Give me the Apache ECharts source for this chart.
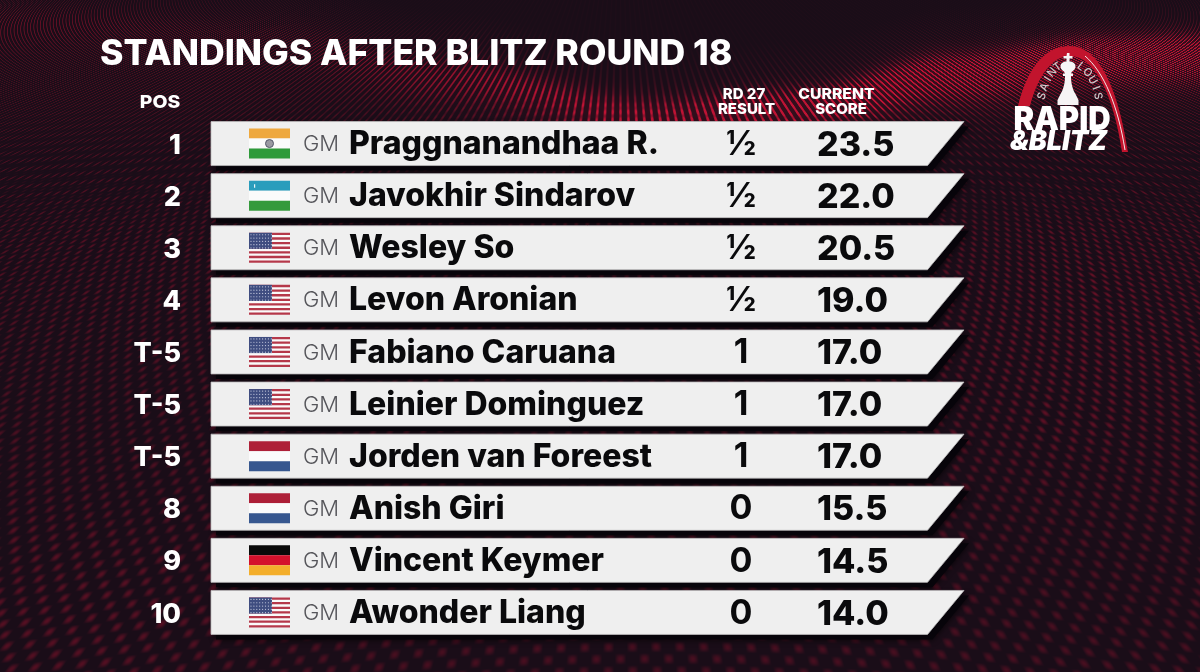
<!DOCTYPE html>
<html><head><meta charset="utf-8">
<style>html,body{margin:0;padding:0;background:#1a0d18;overflow:hidden}#c{width:1200px;height:672px}</style>
<script src="https://cdn.jsdelivr.net/npm/echarts@6/dist/echarts.min.js"></script>
</head><body><div id="c"></div>
<script>
var positions = ['1','2','3','4','T-5','T-5','T-5','8','9','10'];
var flags = ['IN','UZ','US','US','US','US','NL','NL','DE','US'];
var titles = ['GM','GM','GM','GM','GM','GM','GM','GM','GM','GM'];
var players = ['Praggnanandhaa R.','Javokhir Sindarov','Wesley So','Levon Aronian','Fabiano Caruana','Leinier Dominguez','Jorden van Foreest','Anish Giri','Vincent Keymer','Awonder Liang'];
var results = ['½','½','½','½','1','1','1','0','0','0'];
var scores = [23.5,22.0,20.5,19.0,17.0,17.0,17.0,15.5,14.5,14.0];

var FONT = 'Inter, "Liberation Sans", sans-serif';

function makeBackground(){
  var W=1200,H=672,cv=document.createElement('canvas');cv.width=W;cv.height=H;
  var ctx=cv.getContext('2d'),img=ctx.createImageData(W,H),d=img.data;
  function ridge(x){ // y of the glowing crest
    var pts=[[0,20],[250,35],[450,75],[650,115],[800,105],[950,70],[1100,52],[1200,50]];
    for(var i=1;i<pts.length;i++){ if(x<=pts[i][0]){var t=(x-pts[i-1][0])/(pts[i][0]-pts[i-1][0]);t=t*t*(3-2*t);return pts[i-1][1]+(pts[i][1]-pts[i-1][1])*t;} }
    return 50;
  }
  for(var y=0;y<H;y++){
    for(var x=0;x<W;x++){
      var yy=y+122+24*Math.sin((x-150)/330);
      var s=0.03*yy;
      var u=(x-620)/s;
      var v=Math.log(yy)/0.03;
      var cu=Math.cos(2*Math.PI*u), cv2=Math.cos(2*Math.PI*v);
      var streak=Math.min(1,Math.max(0,(y-90)/140));
      var m=cu*(cv2*streak+(1-streak));
      var dot=Math.pow(Math.max(0,m),1.2);
      var r=ridge(x), dr=(y-r)/(y<r?16:30);
      var glow=Math.exp(-dr*dr);
      var glowx=Math.min(1,Math.max(0,(x-300)/500));
      var lvl=0.27;
      lvl+=0.20*Math.exp(-Math.pow((x-1100)/200,2)-Math.pow((y-320)/170,2));
      lvl+=0.10*Math.exp(-Math.pow((x-70)/180,2)-Math.pow((y-600)/120,2));
      lvl+=0.08*Math.exp(-Math.pow((x-120)/200,2)-Math.pow((y-260)/120,2));
      if(y<r) lvl*=Math.max(0.08,1-(r-y)/70);
      var a=dot*(lvl+glow*(0.15+1.0*glowx))+0.16*glow*glowx;
      if(a>1)a=1;
      d[(y*W+x)*4]=26+a*165;
      d[(y*W+x)*4+1]=13+a*6;
      d[(y*W+x)*4+2]=24+a*28;
      d[(y*W+x)*4+3]=255;
    }
  }
  ctx.putImageData(img,0,0);
  return cv;
}

function flagEls(code,x,y,w,h){
  var els=[];
  function r(yf,hf,c,xf,wf){els.push({type:'rect',shape:{x:x+(xf||0)*w,y:y+yf*h,width:(wf==null?1:wf)*w,height:hf*h},style:{fill:c}});}
  function tri(a,b,c){r(0,1/3,a);r(1/3,1/3,b);r(2/3,1/3,c);}
  if(code==='IN'){tri('#eea83e','#fbfbfb','#2e9a3a');
    els.push({type:'circle',shape:{cx:x+w/2,cy:y+h/2,r:4},style:{fill:'#9a9aa2',stroke:'#55586a',lineWidth:1}});
  } else if(code==='UZ'){tri('#2a9dbc','#fbfbfb','#359a3c');
    els.push({type:'rect',shape:{x:x+5,y:y+3.5,width:1.2,height:3.5},style:{fill:'#e8f4f8'}});
  } else if(code==='NL'){tri('#ae2038','#fbfbfb','#37578f');
  } else if(code==='DE'){tri('#0a0a0a','#d4112c','#f3ae2c');
  } else {
    r(0,1,'#fafafa');
    for(var i=0;i<13;i+=2) r(i/13,1/13,'#b5384a');
    r(0,7/13,'#3f4d80',0,0.56);
    for(var a=0;a<5;a++)for(var b=0;b<8;b++){
      els.push({type:'circle',shape:{cx:x+2+b*2.9,cy:y+2+a*3.3,r:0.6},style:{fill:'#c8cde0'}});
    }
  }
  return els;
}

function renderRow(params,api){
  var i=api.value(1);
  function X(v){return api.coord([v,i])[0];}
  var cy=api.coord([0,i])[1];
  var h=44;
  var top=cy-h/2, bot=cy+h/2;
  var pts=[[X(211),top],[X(964),top],[X(927.5),bot],[X(211),bot]];
  var children=[
    {type:'polygon',shape:{points:pts.map(function(p){return [p[0]+5,p[1]+5];})},style:{fill:'#07040a',shadowBlur:6,shadowColor:'rgba(0,0,0,0.8)'}},
    {type:'polygon',shape:{points:pts},style:{fill:'#efefef',stroke:'#bdbbbd',lineWidth:0.8}}
  ];
  children=children.concat(flagEls(flags[i],X(249),cy-15,41,30));
  children.push(
    {type:'text',style:{x:X(181),y:cy+2,text:positions[i],align:'right',verticalAlign:'middle',fill:'#fff',font:'800 27px '+FONT}},
    {type:'text',style:{x:X(303),y:cy+1,text:titles[i],align:'left',verticalAlign:'middle',fill:'#55555a',font:'300 22px '+FONT}},
    {type:'text',style:{x:X(349),y:cy+1,text:players[i],align:'left',verticalAlign:'middle',fill:'#0a0a0c',font:'800 32px '+FONT}},
    {type:'text',style:{x:X(741),y:cy+1,text:results[i],align:'center',verticalAlign:'middle',fill:'#0a0a0c',font:'700 34px '+FONT}},
    {type:'text',style:{x:X(817),y:cy+2,text:scores[i].toFixed(1),align:'left',verticalAlign:'middle',fill:'#0a0a0c',font:'800 34px '+FONT}}
  );
  return {type:'group',children:children};
}

var SAINT=[['S',1042,96,72],['A',1044.5,87,66],['I',1048,79,58],['N',1052,72.5,48],['T',1057.5,67,35]];
var LOUIS=[['L',1081,66.5,-38],['O',1087.5,72.5,-48],['U',1092.5,80,-60],['I',1096,88,-70],['S',1098,96,-80]];

function renderLogo(){
  var c=[
   {type:'path',shape:{pathData:'M1018,106 C1028,66 1046,46 1070,46 C1100,46 1119,92 1128,152 L1122,152 C1114,98 1096,56 1070,56 C1052,56 1038,76 1030,106 Z'},style:{fill:'#c2142d'}},
   {type:'path',shape:{pathData:'M1085,56 C1104,72 1118,106 1125,150'},style:{fill:null,stroke:'#f2e8ea',lineWidth:1}},
   {type:'path',shape:{pathData:'M1067,53 h2.5 v3 h3 v2.5 h-3 v3 c3,0 6,1.5 6,5 c0,2.5 -2,4 -3.5,5 l-1,2 h2 v2.5 h-2 c0,8 2,14 4.5,18 l3,6 v5 h-21 v-5 l3,-6 c2.5,-4 4.5,-10 4.5,-18 h-2 v-2.5 h2 l-1,-2 c-1.5,-1 -3.5,-2.5 -3.5,-5 c0,-3.5 3,-5 6,-5 v-3 h-3 v-2.5 h3 Z'},style:{fill:'#f6f4f5'}}
  ];
  SAINT.concat(LOUIS).forEach(function(l){
    c.push({type:'text',x:l[1],y:l[2],rotation:l[3]*Math.PI/180,style:{x:0,y:0,text:l[0],align:'center',verticalAlign:'middle',fill:'#cfc8cb',font:'500 11px '+FONT}});
  });
  c.push({type:'text',x:1062,y:120.5,scaleX:0.94,style:{x:0,y:0,text:'RAPID',align:'center',verticalAlign:'middle',fill:'#fff',font:'900 33px '+FONT}});
  c.push({type:'text',x:1058.5,y:142,style:{x:0,y:0,text:'&BLITZ',align:'center',verticalAlign:'middle',fill:'#fff',font:'italic 900 27px '+FONT}});
  return {type:'group',children:c};
}

function hdr(text,x,y,sx,size){
  return {type:'text',x:x,y:y,scaleX:sx,style:{text:text,x:0,y:0,align:'center',verticalAlign:'middle',fill:'#fff',font:'800 '+size+'px '+FONT}};
}

var chart=echarts.init(document.getElementById('c'),null,{renderer:'canvas',devicePixelRatio:1});
chart.setOption({
  animation:false,
  backgroundColor:{image:makeBackground(),repeat:'no-repeat'},
  title:{text:'STANDINGS AFTER BLITZ ROUND 18',left:100,top:36,padding:0,textStyle:{color:'#fff',fontFamily:FONT,fontWeight:800,fontSize:35.6}},
  grid:{left:0,right:0,width:1200,top:117.5,height:521,containLabel:false},
  xAxis:{type:'value',min:0,max:1200,show:false},
  yAxis:{type:'category',inverse:true,data:players,show:false},
  graphic:[
    hdr('POS',160,103,1.08,18),
    hdr('RD 27',744,94,1,15),
    hdr('RESULT',746.5,109,1,15),
    hdr('CURRENT',836.5,94,1.05,15),
    hdr('SCORE',841,109,1,15)
  ],
  series:[
    {type:'custom',name:'Standings',coordinateSystem:'cartesian2d',clip:false,renderItem:renderRow,
     data:players.map(function(p,i){return [scores[i],i];})},
    {type:'custom',name:'Logo',coordinateSystem:'none',renderItem:renderLogo,data:[0],silent:true}
  ]
});
</script></body></html>
